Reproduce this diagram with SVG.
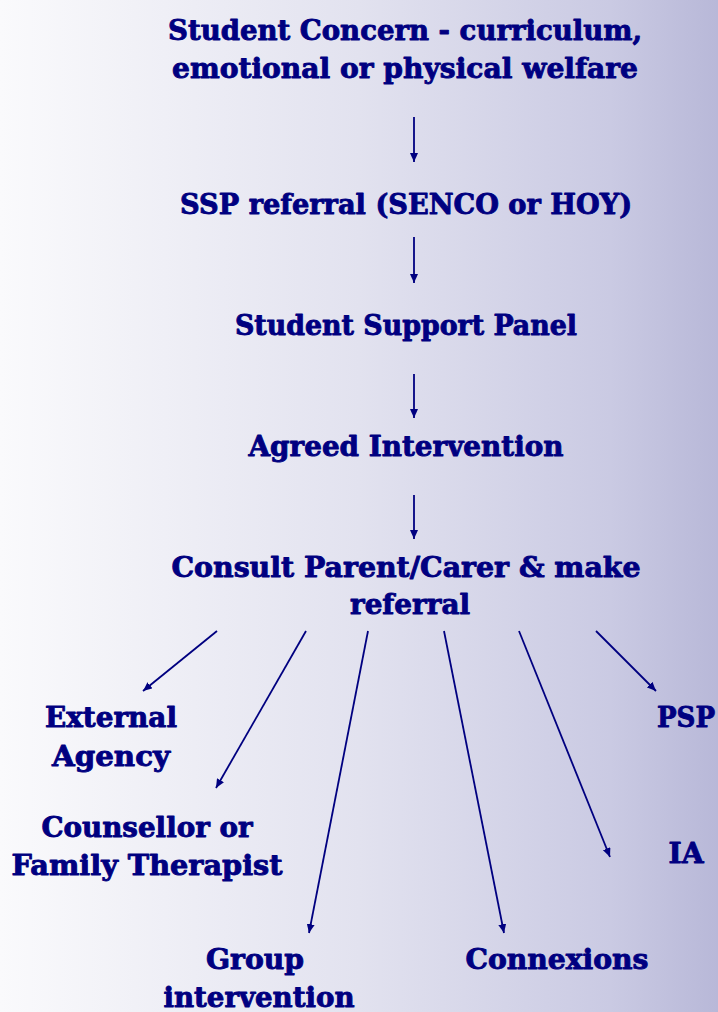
<svg xmlns="http://www.w3.org/2000/svg" width="718" height="1012" viewBox="0 0 718 1012">
  <defs>
    <linearGradient id="bg" x1="0" y1="0" x2="1" y2="0">
      <stop offset="0" stop-color="#fafafc"/>
      <stop offset="0.5" stop-color="#e2e2ef"/>
      <stop offset="0.85" stop-color="#cacae3"/>
      <stop offset="1" stop-color="#b8b8d8"/>
    </linearGradient>
    <marker id="head" markerUnits="userSpaceOnUse" markerWidth="10" markerHeight="8" refX="9" refY="4" orient="auto">
      <path d="M0,0 L9,4 L0,8 z" fill="#000080"/>
    </marker>
    <style>
      text { font-family: "DejaVu Serif", "Liberation Serif", serif; font-weight: bold; font-size: 28px; fill: #000080; stroke: #000080; stroke-width: 0.9; stroke-linejoin: round; text-anchor: middle; }
      .link { stroke: #000080; stroke-width: 1.8; fill: none; marker-end: url(#head); }
    </style>
  </defs>

  <rect width="718" height="1012" fill="url(#bg)"/>

  <!-- main flow -->
  <g id="concern">
    <text x="405" y="40" textLength="474" lengthAdjust="spacingAndGlyphs">Student Concern - curriculum,</text>
    <text x="405" y="78" textLength="466" lengthAdjust="spacingAndGlyphs">emotional or physical welfare</text>
  </g>
  <g id="ssp-referral">
    <text x="406" y="214" textLength="452" lengthAdjust="spacingAndGlyphs">SSP referral (SENCO or HOY)</text>
  </g>
  <g id="support-panel">
    <text x="406" y="335" textLength="342" lengthAdjust="spacingAndGlyphs">Student Support Panel</text>
  </g>
  <g id="agreed-intervention">
    <text x="406" y="456" textLength="315" lengthAdjust="spacingAndGlyphs">Agreed Intervention</text>
  </g>
  <g id="consult">
    <text x="406" y="577" textLength="469" lengthAdjust="spacingAndGlyphs">Consult Parent/Carer &amp; make</text>
    <text x="410" y="614" textLength="120" lengthAdjust="spacingAndGlyphs">referral</text>
  </g>

  <!-- referral destinations -->
  <g id="external-agency">
    <text x="111" y="727" textLength="132" lengthAdjust="spacingAndGlyphs">External</text>
    <text x="111" y="766" textLength="118" lengthAdjust="spacingAndGlyphs">Agency</text>
  </g>
  <g id="counsellor">
    <text x="147" y="837" textLength="211" lengthAdjust="spacingAndGlyphs">Counsellor or</text>
    <text x="147" y="875" textLength="271" lengthAdjust="spacingAndGlyphs">Family Therapist</text>
  </g>
  <g id="group-intervention">
    <text x="255" y="969" textLength="98" lengthAdjust="spacingAndGlyphs">Group</text>
    <text x="259" y="1007" textLength="191" lengthAdjust="spacingAndGlyphs">intervention</text>
  </g>
  <g id="connexions">
    <text x="557" y="969" textLength="183" lengthAdjust="spacingAndGlyphs">Connexions</text>
  </g>
  <g id="ia">
    <text x="686" y="863" textLength="35" lengthAdjust="spacingAndGlyphs">IA</text>
  </g>
  <g id="psp">
    <text x="686" y="727" textLength="58" lengthAdjust="spacingAndGlyphs">PSP</text>
  </g>

  <!-- connectors -->
  <g id="connectors">
    <line class="link" x1="414" y1="117" x2="414" y2="162"/>
    <line class="link" x1="414" y1="237" x2="414" y2="283"/>
    <line class="link" x1="414" y1="374" x2="414" y2="418"/>
    <line class="link" x1="414" y1="495" x2="414" y2="539"/>
    <line class="link" x1="217" y1="631" x2="143" y2="691"/>
    <line class="link" x1="306" y1="631" x2="216" y2="788"/>
    <line class="link" x1="368" y1="631" x2="309" y2="933"/>
    <line class="link" x1="444" y1="631" x2="504" y2="933"/>
    <line class="link" x1="519" y1="631" x2="610" y2="857"/>
    <line class="link" x1="596" y1="631" x2="656" y2="691"/>
  </g>
</svg>
